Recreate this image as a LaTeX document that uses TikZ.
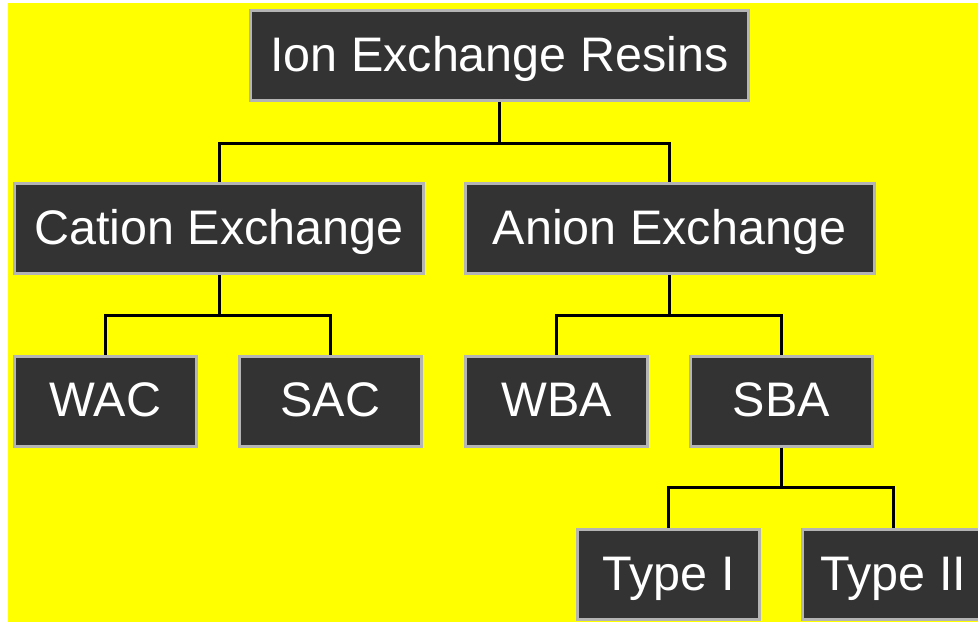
\documentclass[tikz,border=0pt]{standalone}
\usepackage{fontspec}
\setmainfont{Liberation Sans}
\usepackage{tikz}
\usetikzlibrary{positioning}
\usepackage{xcolor}
\definecolor{ixyellow}{RGB}{255,255,0}
\definecolor{ixdark}{RGB}{51,51,51}
\definecolor{ixgrey}{RGB}{180,180,180}
\tikzstyle{resin} = [draw=ixgrey, line width=3pt, fill=ixdark, text=white, minimum height=90pt, inner sep=0pt, text height=31pt, text depth=0pt, font=\fontsize{48.5}{58}\selectfont]
\tikzstyle{link} = [line width=3pt, color=black]

\begin{document}
\begin{tikzpicture}[x=1pt, y=-1pt]
\useasboundingbox (0,0) rectangle (978,622);
% Background
\fill[ixyellow] (8,3) rectangle (978,622);

% Root
\node[resin, minimum width=498pt] (root) at (499.5,55.5) {Ion Exchange Resins};

% Families
\node[resin, minimum width=409pt] (cation) at (219,228.5) {Cation Exchange};
\node[resin, minimum width=409pt] (anion) at (669.5,228.5) {Anion Exchange};

% Resin types
\node[resin, minimum width=182pt] (wac) at (105.5,401) {WAC};
\node[resin, minimum width=182pt] (sac) at (330.5,401) {SAC};
\node[resin, minimum width=182pt] (wba) at (556.5,401) {WBA};
\node[resin, minimum width=182pt] (sba) at (781.5,401) {SBA};

% SBA subtypes
\node[resin, minimum width=182pt] (type1) at (668.5,574.5) {Type I};
\node[resin, minimum width=182pt] (type2) at (893.5,574.5) {Type II};

% Connectors
\draw[link] (root.south) -- ++(0,41.5) -| (cation.north);
\draw[link] (root.south) -- ++(0,41.5) -| (anion.north);
\draw[link] (cation.south) -- ++(0,40) -| (wac.north);
\draw[link] (cation.south) -- ++(0,40) -| (sac.north);
\draw[link] (anion.south) -- ++(0,40) -| (wba.north);
\draw[link] (anion.south) -- ++(0,40) -| (sba.north);
\draw[link] (sba.south) -- ++(0,40) -| (type1.north);
\draw[link] (sba.south) -- ++(0,40) -| (type2.north);
\end{tikzpicture}
\end{document}
